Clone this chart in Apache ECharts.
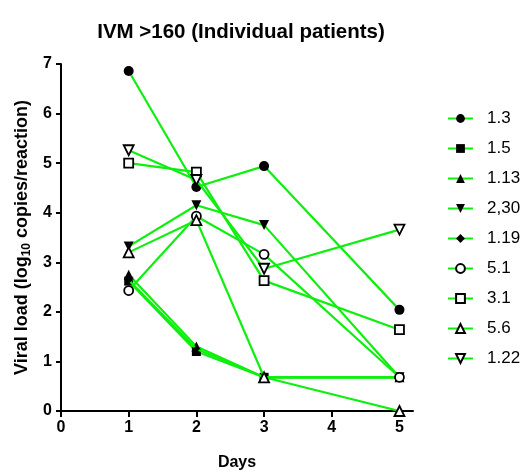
<!DOCTYPE html>
<html>
<head>
    <meta charset="utf-8">
    <script src="https://cdn.jsdelivr.net/npm/echarts@6/dist/echarts.min.js"></script>
</head>
<body style="margin:0">
<div id="main" style="width: 523px;height:476px;"></div>
<script type="text/javascript">
    // days sampled
    var days = [1, 2, 3, 5];

    // one array per patient (log10 copies/reaction)
    var p1_3  = [6.86, 4.52, 4.94, 2.04];
    var p1_5  = [2.62, 1.20, 0.68, 0.68];
    var p1_13 = [2.75, 1.30, 0.68, 0.68];
    var p2_30 = [3.32, 4.15, 3.75, 0.68];
    var p1_19 = [2.64, 1.25, 0.68, 0.68];
    var p5_1  = [2.43, 3.93, 3.16, 0.68];
    var p3_1  = [5.00, 4.82, 2.63, 1.64];
    var p5_6  = [3.20, 3.85, 0.68, 0.00];
    var p1_22 = [5.26, 4.66, 2.87, 3.66];

    var names = ['1.3', '1.5', '1.13', '2,30', '1.19', '5.1', '3.1', '5.6', '1.22'];
    var values = [p1_3, p1_5, p1_13, p2_30, p1_19, p5_1, p3_1, p5_6, p1_22];

    var downTri = 'path://M0,0 L10,0 L5,9 Z';
    var symbols = ['circle', 'rect', 'triangle', downTri, 'diamond', 'circle', 'rect', 'triangle', downTri];
    var sizes   = [10, 9, 10, 10, 7, 9, 9, 10, 10];
    var hollow  = [false, false, false, false, false, true, true, true, true];

    var green = '#0fef0f';
    var font = 'Liberation Sans';

    var series = names.map(function (n, i) {
        return {
            name: n,
            type: 'line',
            data: days.map(function (d, j) { return [d, values[i][j]]; }),
            symbol: symbols[i],
            symbolSize: sizes[i],
            showAllSymbol: true,
            lineStyle: { color: green, width: 2.2 },
            itemStyle: {
                color: hollow[i] ? '#ffffff' : '#000000',
                borderColor: '#000000',
                borderWidth: hollow[i] ? 1.8 : 0
            },
            emphasis: { disabled: true },
            z: 2 + i
        };
    });

    var myChart = echarts.init(document.getElementById('main'));

    var option = {
        animation: false,
        backgroundColor: '#ffffff',
        title: {
            text: 'IVM >160 (Individual patients)',
            left: 236,
            textAlign: 'center',
            top: 17,
            textStyle: { fontFamily: font, fontSize: 20.5, fontWeight: 'bold', color: '#000' }
        },
        legend: {
            orient: 'vertical',
            left: 442,
            top: 105,
            itemGap: 13,
            itemWidth: 25,
            itemHeight: 11,
            data: names,
            textStyle: { fontFamily: font, fontSize: 17, color: '#000', padding: [0, 0, 0, 9] }
        },
        grid: { left: 61, right: 110, top: 64, bottom: 58, containLabel: false },
        xAxis: {
            type: 'value',
            min: 0,
            max: 5.2,
            interval: 1,
            name: 'Days',
            nameLocation: 'middle',
            nameGap: 44,
            nameTextStyle: { fontFamily: font, fontSize: 16, fontWeight: 'bold', color: '#000' },
            axisLine: { onZero: false, lineStyle: { color: '#000', width: 2 } },
            axisTick: { show: true, length: 6, lineStyle: { color: '#000', width: 2 } },
            axisLabel: {
                margin: 9,
                fontFamily: font, fontSize: 16, fontWeight: 'bold', color: '#000',
                showMaxLabel: false
            },
            splitLine: { show: false }
        },
        yAxis: {
            type: 'value',
            min: 0,
            max: 7,
            interval: 1,
            name: '{a|Viral load (log}{s|10}{a| copies/reaction)}',
            nameLocation: 'middle',
            nameRotate: 90,
            nameGap: 27,
            nameTextStyle: {
                rich: {
                    a: { fontFamily: font, fontSize: 18, fontWeight: 'bold', color: '#000' },
                    s: { fontFamily: font, fontSize: 12, fontWeight: 'bold', color: '#000', padding: [9, 0, 0, 0] }
                }
            },
            axisLine: { show: true, onZero: false, lineStyle: { color: '#000', width: 2 } },
            axisTick: { show: true, length: 5, lineStyle: { color: '#000', width: 2 } },
            axisLabel: { margin: 9, fontFamily: font, fontSize: 16, fontWeight: 'bold', color: '#000' },
            splitLine: { show: false }
        },
        series: series
    };

    myChart.setOption(option);
</script>
</body>
</html>
